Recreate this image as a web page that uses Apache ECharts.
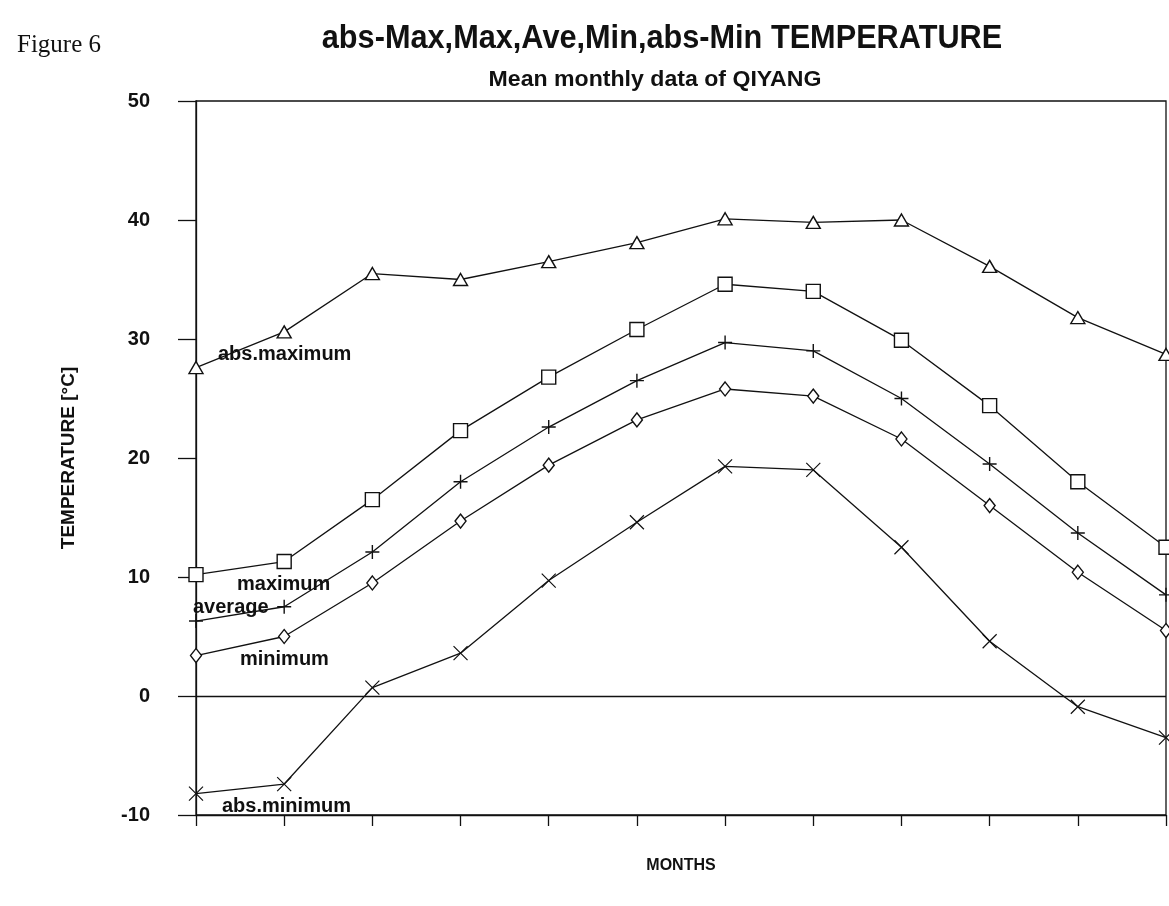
<!DOCTYPE html>
<html>
<head>
<meta charset="utf-8">
<title>Mean monthly temperature of QIYANG</title>
<script src="https://cdn.jsdelivr.net/npm/echarts@6/dist/echarts.min.js"></script>
<style>
  html, body { margin: 0; padding: 0; background: #fff; }
  #chart { width: 1169px; height: 906px; }
</style>
</head>
<body>
<div id="chart"></div>
<script>
// Months (January .. December); the axis shows ticks only
const months = ['Jan', 'Feb', 'Mar', 'Apr', 'May', 'Jun', 'Jul', 'Aug', 'Sep', 'Oct', 'Nov', 'Dec'];

// Mean monthly temperatures, °C
const absMaximum = [27.6, 30.6, 35.5, 35.0, 36.5, 38.1, 40.1, 39.8, 40.0, 36.1, 31.8, 28.7];
const maximum    = [10.2, 11.3, 16.5, 22.3, 26.8, 30.8, 34.6, 34.0, 29.9, 24.4, 18.0, 12.5];
const average    = [6.3, 7.5, 12.1, 18.0, 22.6, 26.5, 29.7, 29.0, 25.0, 19.5, 13.7, 8.5];
const minimum    = [3.4, 5.0, 9.5, 14.7, 19.4, 23.2, 25.8, 25.2, 21.6, 16.0, 10.4, 5.5];
const absMinimum = [-8.2, -7.4, 0.7, 3.6, 9.7, 14.6, 19.3, 19.0, 12.5, 4.6, -0.9, -3.5];

// Y axis ticks
const yTicks = [-10, 0, 10, 20, 30, 40, 50];

// Curve names written inside the plot: [text, month index, value]
const curveNames = [
  ['abs.maximum', 0, 28.7],
  ['maximum', 0, 9.4],
  ['average', 0, 7.4],
  ['minimum', 0, 3.1],
  ['abs.minimum', 0, -9.3]
];
const curveNameOffsets = [22, 41, -3, 44, 26];

const chart = echarts.init(document.getElementById('chart'), null, { renderer: 'canvas' });

const INK = '#111';
const boldSans = 'Liberation Sans, Arial, sans-serif';

const plusPath = 'path://M5,0L5,10M0,5L10,5';
const crossPath = 'path://M0,0L10,10M10,0L0,10';

function lineSeries(name, data, symbol, size) {
  return {
    name: name,
    type: 'line',
    data: data,
    symbol: symbol,
    symbolSize: size,
    showAllSymbol: true,
    clip: false,
    silent: true,
    animation: false,
    z: 3,
    lineStyle: { color: INK, width: 1.3 },
    itemStyle: { color: '#fff', borderColor: INK, borderWidth: 1.4 }
  };
}

const series = [
  lineSeries('abs.maximum', absMaximum, 'triangle', [14, 12]),
  lineSeries('maximum', maximum, 'rect', 14),
  lineSeries('average', average, plusPath, 14),
  lineSeries('minimum', minimum, 'diamond', [11, 14]),
  lineSeries('abs.minimum', absMinimum, crossPath, 14)
];
series[2].itemStyle = { color: 'none', borderColor: INK, borderWidth: 1.4 };
series[4].itemStyle = { color: 'none', borderColor: INK, borderWidth: 1.2 };

// zero line
series[0].markLine = {
  silent: true,
  symbol: 'none',
  label: { show: false },
  lineStyle: { color: INK, width: 1.3, type: 'solid' },
  data: [{ yAxis: 0 }],
  animation: false
};

// curve names, each attached to its own series
curveNames.forEach(function (c, i) {
  series[i].markPoint = {
    silent: true,
    animation: false,
    symbol: 'circle',
    symbolSize: 0,
    data: [{
      coord: [c[1], c[2]],
      label: {
        show: true,
        formatter: c[0],
        position: 'inside',
        offset: [curveNameOffsets[i], 0],
        align: 'left',
        verticalAlign: 'middle',
        color: INK,
        fontFamily: boldSans,
        fontWeight: 'bold',
        fontSize: 20
      }
    }]
  };
});

const option = {
  backgroundColor: '#fff',
  animation: false,
  grid: {
    left: 196, right: 3, top: 101, bottom: 91,
    show: true, borderColor: INK, borderWidth: 1.3, backgroundColor: 'transparent'
  },
  graphic: [
    {
      type: 'text', left: 17, top: 33, silent: true,
      style: { text: 'Figure 6', fill: INK, font: '25px "Liberation Serif", "DejaVu Serif", serif' }
    },
    {
      type: 'text', x: 662, y: 39, scaleX: 0.93, silent: true,
      style: {
        text: 'abs-Max,Max,Ave,Min,abs-Min TEMPERATURE', fill: INK,
        font: 'bold 33px ' + boldSans, align: 'center', verticalAlign: 'middle'
      }
    },
    {
      type: 'text', x: 655, y: 80, scaleX: 1.05, silent: true,
      style: {
        text: 'Mean monthly data of QIYANG', fill: INK,
        font: 'bold 22px ' + boldSans, align: 'center', verticalAlign: 'middle'
      }
    }
  ],
  xAxis: {
    type: 'category',
    data: months,
    boundaryGap: false,
    name: 'MONTHS',
    nameLocation: 'middle',
    nameGap: 43,
    nameTextStyle: { color: INK, fontFamily: boldSans, fontWeight: 'bold', fontSize: 16 },
    axisLine: { show: true, onZero: false, lineStyle: { color: INK, width: 1.3 } },
    axisTick: { show: true, alignWithLabel: true, inside: false, length: 11, lineStyle: { color: INK, width: 1.3 } },
    axisLabel: { show: false },
    splitLine: { show: false }
  },
  yAxis: {
    type: 'value',
    min: yTicks[0],
    max: yTicks[yTicks.length - 1],
    interval: 10,
    name: 'TEMPERATURE [°C]',
    nameLocation: 'middle',
    nameRotate: 90,
    nameGap: 118,
    nameTextStyle: { color: INK, fontFamily: boldSans, fontWeight: 'bold', fontSize: 19 },
    axisLine: { show: true, lineStyle: { color: INK, width: 1.3 } },
    axisTick: { show: true, inside: false, length: 18, lineStyle: { color: INK, width: 1.3 } },
    axisLabel: {
      margin: 46, color: INK, fontFamily: boldSans, fontWeight: 'bold', fontSize: 20,
      formatter: function (v) { return String(v); }
    },
    splitLine: { show: false }
  },
  series: series
};

chart.setOption(option);
</script>
</body>
</html>
